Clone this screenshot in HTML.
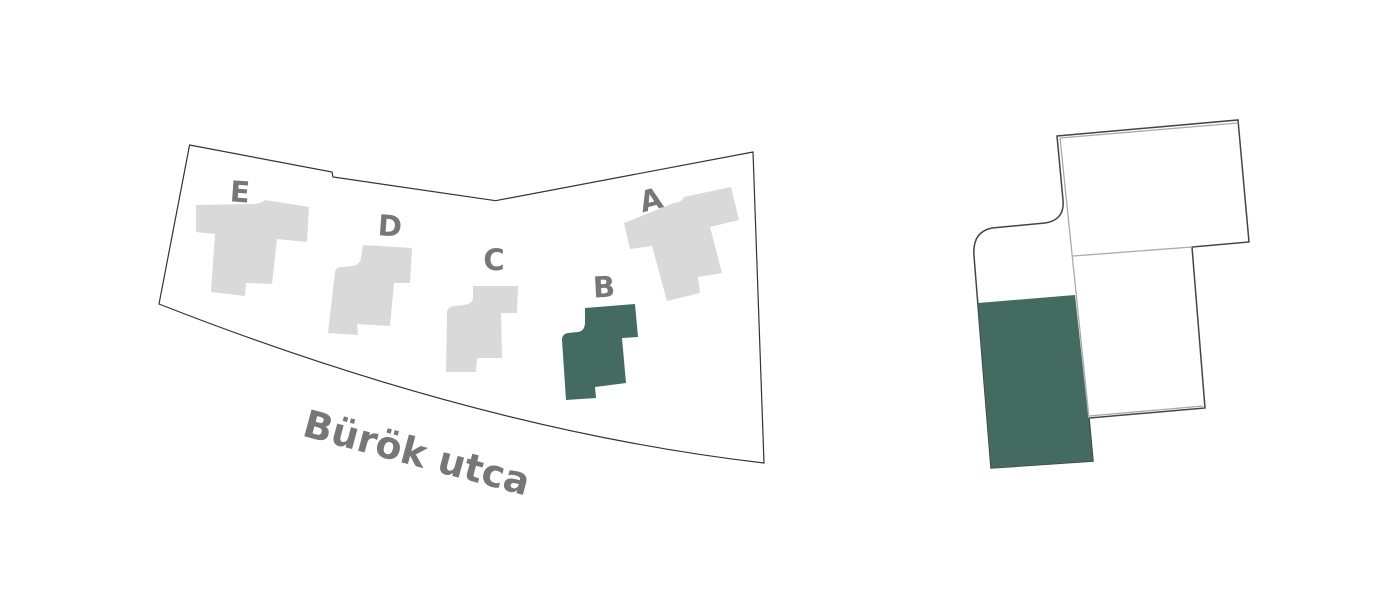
<!DOCTYPE html>
<html><head><meta charset="utf-8"><style>html,body{margin:0;padding:0;background:#fff;width:1400px;height:600px;overflow:hidden}</style></head>
<body>
<svg width="1400" height="600" viewBox="0 0 1400 600" xmlns="http://www.w3.org/2000/svg">
<path d="M189.6,145 L332,172 L333,177 L495.6,200.7 L753,152 L764,463 Q480,430 159,304 Z" fill="#fff" stroke="#333" stroke-width="1.2"/>
<g fill="#d9d9d9">
<path d="M196,205 L255,204 Q262,203 265,200 L309,207 L307,242 L277,239 L272,284 L246,283 L245,296 L211,292 L215,234 L196,232 Z"/>
<path d="M363,245 L412,248 L410,283 L394,283 L390,326 L357,324 L358,335 L328,333 L335,272 Q336,267 342,267 L352,266 Q360,265 361,258 Z"/>
<path d="M473,286 L518,286 L517,313 L501,313 L502,358 L477,358 L476,372 L446,372 L447,312 Q448,306 455,306 L464,305 Q473,304 473,297 Z"/>
<path d="M624,223 L674,203 Q682,202 684,197 L731,187 L739,220 L710,227 L722,273 L698,277 L700,293 L667,301 L652,246 L630,249 Z"/>
</g>
<path d="M585,308 L635,304 L638,337 L622,338 L626,383 L595,387 L596,398 L566,400 L562,340 Q562,334 568,333 L578,332 Q585,331 585,322 Z" fill="#436b62"/>
<g font-family="'DejaVu Sans','Liberation Sans',sans-serif" font-weight="bold" fill="#777" text-anchor="middle">
<text x="240" y="202" font-size="29" transform="rotate(4 240 192)">E</text>
<text x="390" y="236" font-size="29" transform="rotate(4 390 226)">D</text>
<text x="494" y="270" font-size="29">C</text>
<text x="604" y="297" font-size="29" transform="rotate(-3 604 287)">B</text>
<text x="651" y="210" font-size="29" transform="rotate(-14 651 200)">A</text>
<text x="417" y="466" font-size="38" transform="rotate(15 417 452)">Bürök utca</text>
</g>
<path d="M1057,136 L1238,120 L1249,242 L1192,247 L1205,408 L1089,418 L1093,461 L991,468 L974,256 Q972,232 992,228 L1045,223 Q1065,220 1063,200 Z" fill="#fff" stroke="#444" stroke-width="1.5"/>
<path d="M978,303 L1075,295 L1093,461 L991,468 Z" fill="#436b62"/>
<path d="M1073,256 L1192,247 M1060,138 L1089,418 M1060,138 L1238,123 M1089,416 L1203,406" stroke="#aaa" stroke-width="1.3" fill="none"/>
</svg>
</body></html>
